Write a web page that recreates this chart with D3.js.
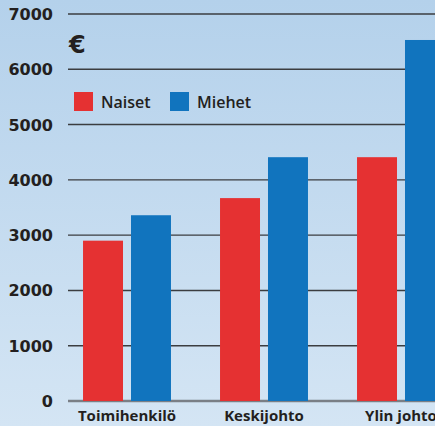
<!DOCTYPE html>
<html>
<head>
<meta charset="utf-8">
<script src="https://cdn.jsdelivr.net/npm/d3@7"></script>
<style>
  body { margin: 0; }
  svg { display: block; }
</style>
</head>
<body>
<div id="chart"></div>
<script>
// Palkkadata (€ / kk)
const categories = ["Toimihenkilö", "Keskijohto", "Ylin johto"];
const series = ["Naiset", "Miehet"];
const naiset = [2900, 3670, 4410];
const miehet = [3360, 4410, 6530];
const yTicks = [0, 1000, 2000, 3000, 4000, 5000, 6000, 7000];

const colors = {Naiset: "#e53132", Miehet: "#1174be"};

const W = 435, H = 426;
const svg = d3.select("#chart").append("svg")
    .attr("width", W).attr("height", H);

// background gradient
const grad = svg.append("defs").append("linearGradient")
    .attr("id", "bg").attr("x1", 0).attr("y1", 0).attr("x2", 0).attr("y2", 1);
grad.append("stop").attr("offset", "0%").attr("stop-color", "#b4d1eb");
grad.append("stop").attr("offset", "100%").attr("stop-color", "#d4e5f4");
svg.append("rect").attr("width", W).attr("height", H).attr("fill", "url(#bg)");

const y = d3.scaleLinear().domain([0, 7000]).range([401, 14]);

const x0 = d3.scaleBand()
    .domain(categories)
    .range([58.5, 469.5])
    .paddingInner(0.358)
    .paddingOuter(0.179);

const x1 = d3.scaleBand()
    .domain(series)
    .range([0, x0.bandwidth()])
    .paddingInner(8 / 48);

// grid lines
svg.append("g").selectAll("line")
  .data(yTicks)
  .join("line")
    .attr("x1", 68).attr("x2", W)
    .attr("y1", d => y(d)).attr("y2", d => y(d))
    .attr("stroke", d => d === 0 ? "#7a7f86" : "#3b3d40")
    .attr("stroke-width", d => d === 0 ? 2.5 : 1.4);

// y tick labels
svg.append("g").selectAll("text")
  .data(yTicks)
  .join("text")
    .attr("x", 53)
    .attr("y", d => y(d) + 6)
    .attr("text-anchor", "end")
    .style("font-family", "DejaVu Sans")
    .style("font-weight", "bold")
    .style("font-size", "16px")
    .attr("fill", "#231f20")
    .text(d => d);

// bars
const rows = categories.map((c, i) => ({cat: c, Naiset: naiset[i], Miehet: miehet[i]}));
svg.append("g").selectAll("g")
  .data(rows)
  .join("g")
    .attr("transform", d => `translate(${x0(d.cat)},0)`)
  .selectAll("rect")
  .data(d => series.map(s => ({key: s, value: d[s]})))
  .join("rect")
    .attr("x", d => x1(d.key))
    .attr("y", d => y(d.value))
    .attr("width", x1.bandwidth())
    .attr("height", d => y(0) - y(d.value))
    .attr("fill", d => colors[d.key]);

// category labels
svg.append("g").selectAll("text")
  .data(categories)
  .join("text")
    .attr("x", d => x0(d) + x0.bandwidth() / 2)
    .attr("y", 421)
    .attr("text-anchor", "middle")
    .style("font-family", "Open Sans")
    .style("font-weight", "bold")
    .style("font-size", "15px")
    .attr("fill", "#231f20")
    .text(d => d);

// euro sign
svg.append("text")
  .attr("x", 69).attr("y", 53)
  .style("font-family", "DejaVu Sans")
  .style("font-weight", "bold")
  .style("font-size", "24px")
  .attr("fill", "#231f20")
  .text("€");

// legend
const legend = svg.append("g").selectAll("g")
  .data(series)
  .join("g")
    .attr("transform", (d, i) => `translate(${74 + i * 96},92)`);
legend.append("rect")
    .attr("width", 19).attr("height", 19)
    .attr("fill", d => colors[d]);
legend.append("text")
    .attr("x", 27).attr("y", 16)
    .style("font-family", "Open Sans")
    .style("font-weight", "600")
    .style("font-size", "16px")
    .attr("fill", "#231f20")
    .text(d => d);
</script>
</body>
</html>
